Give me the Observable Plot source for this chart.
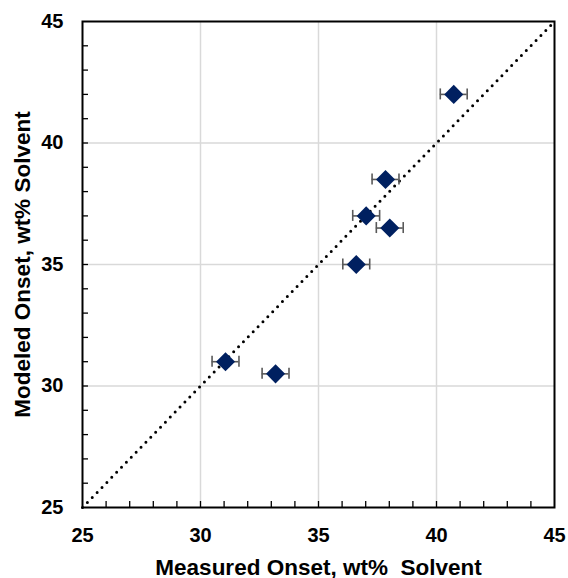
<!DOCTYPE html>
<html>
<head>
<meta charset="utf-8">
<script src="https://cdn.jsdelivr.net/npm/d3@7"></script>
<script src="https://cdn.jsdelivr.net/npm/@observablehq/plot@0.6"></script>
<style>
  html, body { margin: 0; padding: 0; background: #fff; }
  #chart svg { font-family: "Liberation Sans", Arial, sans-serif; }
</style>
</head>
<body>
<div id="chart"></div>
<script>
// Data
const measured = [40.73, 37.84, 37.02, 38.02, 36.6, 31.06, 33.18];
const modeled  = [42.0, 38.5, 37.0, 36.5, 35.0, 31.0, 30.5];
const xError   = [0.57, 0.57, 0.57, 0.57, 0.57, 0.57, 0.57];
const majorTicks = [25, 30, 35, 40, 45];
const minorTicks = d3.range(26, 45);
const parity = [25, 45];
const xTitle = "Measured Onset, wt%  Solvent";
const yTitle = "Modeled Onset, wt% Solvent";

const points = measured.map((m, i) => ({x: m, y: modeled[i], e: xError[i]}));
const parityLine = parity.map(v => ({x: v, y: v}));

const W = 568, H = 578;
const mL = 82, mR = 14, mT = 21, mB = 71;
const plotW = W - mL - mR, plotH = H - mT - mB;
const minorLen = 6;

const chart = Plot.plot({
  width: W, height: H,
  marginLeft: mL, marginRight: mR, marginTop: mT, marginBottom: mB,
  x: {domain: [25, 45]},
  y: {domain: [25, 45]},
  style: {fontFamily: "Liberation Sans, Arial, sans-serif", fontWeight: "bold", fontSize: "20px", color: "#000"},
  marks: [
    Plot.gridX(majorTicks.slice(1, -1), {stroke: "#d9d9d9", strokeOpacity: 1, strokeWidth: 1.5}),
    Plot.gridY(majorTicks.slice(1, -1), {stroke: "#d9d9d9", strokeOpacity: 1, strokeWidth: 1.5}),
    Plot.tickX(minorTicks, {x: d => d, stroke: "#000", strokeWidth: 1.3, insetTop: plotH - minorLen}),
    Plot.tickY(minorTicks, {y: d => d, stroke: "#000", strokeWidth: 1.3, insetRight: plotW - minorLen}),
    Plot.line(parityLine, {x: "x", y: "y", stroke: "#000", strokeWidth: 3, strokeDasharray: "0,7", strokeLinecap: "round"}),
    Plot.ruleY(points, {x1: d => d.x - d.e, x2: d => d.x + d.e, y: "y", stroke: "#595959", strokeWidth: 1.6}),
    Plot.ruleX(points, {x: d => d.x - d.e, y1: "y", y2: "y", insetTop: -5.5, insetBottom: -5.5, stroke: "#595959", strokeWidth: 1.6}),
    Plot.ruleX(points, {x: d => d.x + d.e, y1: "y", y2: "y", insetTop: -5.5, insetBottom: -5.5, stroke: "#595959", strokeWidth: 1.6}),
    Plot.dot(points, {x: "x", y: "y", symbol: "diamond2", r: 8.6, fill: "#002060", stroke: "none"}),
    Plot.frame({stroke: "#000", strokeWidth: 2}),
    Plot.axisX(majorTicks, {tickSize: 0, tickPadding: 20, fontSize: 20, fontWeight: "bold", label: null}),
    Plot.axisY(majorTicks, {tickSize: 0, tickPadding: 19, fontSize: 20, fontWeight: "bold", label: null}),
    Plot.text([xTitle], {frameAnchor: "bottom", dy: 67, text: d => d, fontSize: 22.5, fontWeight: "bold", fill: "#000", textAnchor: "middle"}),
    Plot.text([yTitle], {frameAnchor: "left", dx: -60, rotate: -90, text: d => d, fontSize: 22.5, fontWeight: "bold", fill: "#000", textAnchor: "middle"})
  ]
});
document.getElementById("chart").appendChild(chart);
</script>
</body>
</html>
